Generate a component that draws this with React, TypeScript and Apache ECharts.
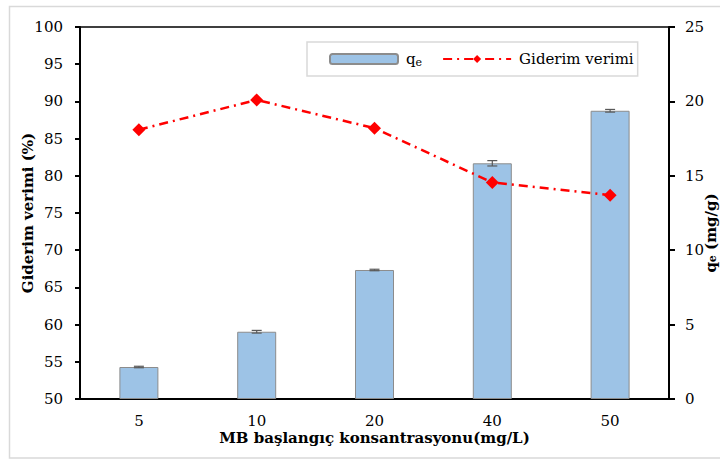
import React, { useEffect, useRef } from 'react';
import * as echarts from 'echarts';

const categories = ['5', '10', '20', '40', '50'];
const qeValues = [2.15, 4.52, 8.67, 15.84, 19.37];
const qeErrors = [0.05, 0.09, 0.05, 0.18, 0.09];
const removalValues = [86.2, 90.2, 86.4, 79.1, 77.4];

const FONT = 'DejaVu Serif';

export default function App() {
  const ref = useRef<HTMLDivElement>(null);
  useEffect(() => {
    if (!ref.current) return;
    const chart = echarts.init(ref.current, undefined, { renderer: 'svg' });
    const errData = qeValues.map((v, i) => [i, v - qeErrors[i], v + qeErrors[i]]);
    chart.setOption({
      animation: false,
      backgroundColor: '#fff',
      textStyle: { fontFamily: FONT },
      graphic: [
        {
          type: 'rect',
          shape: { x: 9.5, y: 6.5, width: 720, height: 451.5 },
          style: { fill: 'none', stroke: '#d9d9d9', lineWidth: 1.5 },
          silent: true,
        },
      ],
      grid: {
        left: 80, right: 51, top: 27, bottom: 60,
        outerBoundsMode: 'none',
        containLabel: false,
        show: true, borderColor: '#000', borderWidth: 1.5, backgroundColor: 'transparent',
      },
      legend: {
        left: 307, top: 42,
        padding: [8, 4, 8, 22],
        borderColor: '#d9d9d9', borderWidth: 1.5, backgroundColor: '#fff',
        itemWidth: 68, itemHeight: 10, itemGap: 20,
        data: ['qe', 'Giderim verimi'],
        formatter: (name: string) => (name === 'qe' ? 'q{sub|e}' : name),
        textStyle: {
          fontFamily: FONT, fontSize: 15, color: '#000', lineHeight: 18,
          padding: [0, 0, 0, 3],
          rich: { sub: { fontFamily: FONT, fontSize: 11, lineHeight: 11, verticalAlign: 'bottom' } },
        },
      },
      xAxis: {
        type: 'category',
        data: categories,
        name: 'MB başlangıç konsantrasyonu(mg/L)',
        nameLocation: 'middle',
        nameGap: 31,
        nameMoveOverlap: false,
        nameTextStyle: { fontFamily: FONT, fontSize: 15, fontWeight: 'bold', color: '#000' },
        axisLine: { lineStyle: { color: '#000', width: 2 } },
        axisTick: { alignWithLabel: true, length: 4, lineStyle: { color: '#000', width: 2 } },
        axisLabel: { fontFamily: FONT, fontSize: 15, color: '#000', margin: 14 },
      },
      yAxis: [
        {
          type: 'value', min: 50, max: 100, interval: 5,
          name: 'Giderim verimi (%)',
          nameLocation: 'middle', nameGap: 45, nameRotate: 90,
          nameMoveOverlap: false,
          nameTextStyle: { fontFamily: FONT, fontSize: 15, fontWeight: 'bold', color: '#000' },
          axisLine: { show: true, lineStyle: { color: '#000', width: 2 } },
          axisTick: { show: true, length: 5, lineStyle: { color: '#000', width: 2 } },
          axisLabel: { fontFamily: FONT, fontSize: 15, color: '#000', margin: 17 },
          splitLine: { show: false },
        },
        {
          type: 'value', min: 0, max: 25, interval: 5, position: 'right',
          name: 'q{b|e} (mg/g)',
          nameLocation: 'middle', nameGap: 34, nameRotate: 90,
          nameMoveOverlap: false,
          nameTextStyle: {
            fontFamily: FONT, fontSize: 15, fontWeight: 'bold', color: '#000',
            padding: [0, 40, 0, 0],
            rich: { b: { fontFamily: FONT, fontSize: 11, fontWeight: 'bold', verticalAlign: 'bottom' } },
          },
          axisLine: { show: true, lineStyle: { color: '#000', width: 2 } },
          axisTick: { show: true, length: 6, lineStyle: { color: '#000', width: 2 } },
          axisLabel: { fontFamily: FONT, fontSize: 15, color: '#000', margin: 16 },
          splitLine: { show: false },
        },
      ],
      series: [
        {
          name: 'qe',
          type: 'bar',
          yAxisIndex: 1,
          data: qeValues,
          barWidth: 39,
          itemStyle: { color: '#9DC3E6', borderColor: '#8c8c8c', borderWidth: 1 },
          z: 2,
        },
        {
          name: 'err',
          type: 'custom',
          yAxisIndex: 1,
          data: errData,
          z: 3,
          renderItem: (params: any, api: any) => {
            const x = api.coord([api.value(0), api.value(1)])[0];
            const lo = api.coord([api.value(0), api.value(1)])[1];
            const hi = api.coord([api.value(0), api.value(2)])[1];
            const w = 5;
            const style = { stroke: '#595959', lineWidth: 1.2 };
            return {
              type: 'group',
              children: [
                { type: 'line', shape: { x1: x, y1: lo, x2: x, y2: hi }, style },
                { type: 'line', shape: { x1: x - w, y1: lo, x2: x + w, y2: lo }, style },
                { type: 'line', shape: { x1: x - w, y1: hi, x2: x + w, y2: hi }, style },
              ],
            };
          },
        },
        {
          name: 'Giderim verimi',
          type: 'line',
          yAxisIndex: 0,
          data: removalValues,
          color: '#ff0000',
          lineStyle: { color: '#ff0000', width: 2.5, type: [9, 5, 2, 5] },
          symbol: 'diamond',
          symbolSize: 13,
          itemStyle: { color: '#ff0000' },
          z: 5,
        },
      ],
    });
    return () => chart.dispose();
  }, []);
  return (
    <div
      ref={ref}
      style={{ position: 'absolute', left: 0, top: 0, width: 720, height: 459 }}
    />
  );
}
